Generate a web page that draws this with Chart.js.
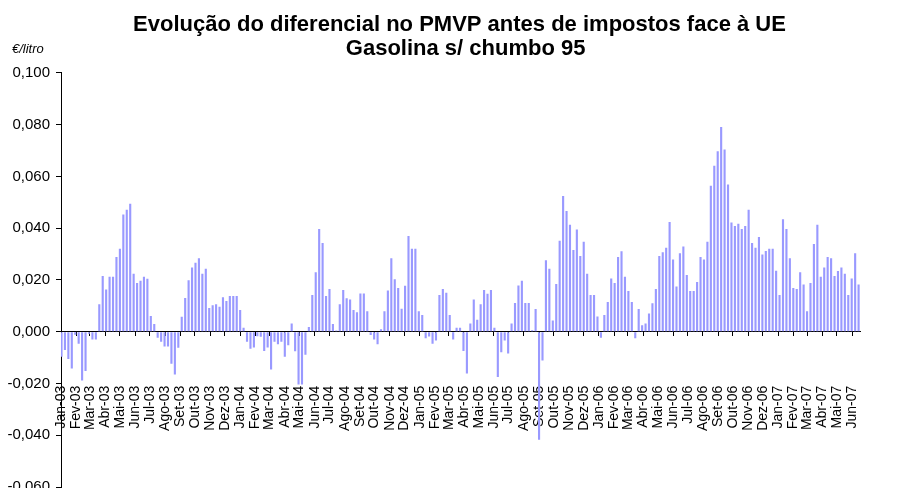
<!DOCTYPE html>
<html>
<head>
<meta charset="utf-8">
<script src="https://cdn.jsdelivr.net/npm/chart.js@4/dist/chart.umd.min.js"></script>
<style>
  html, body { margin: 0; padding: 0; background: #fff; overflow: hidden; }
  #wrap { position: relative; width: 919px; height: 502px; }
</style>
</head>
<body>
<div id="wrap"><canvas id="c"></canvas></div>
<script>
// ---- Data ----
const titleLines = ['Evolução do diferencial no PMVP antes de impostos face à UE', '  Gasolina s/ chumbo 95'];
const unitLabel = '€/litro';

// Month tick labels (x axis)
const monthLabels = [
  'Jan-03','Fev-03','Mar-03','Abr-03','Mai-03','Jun-03','Jul-03','Ago-03','Set-03','Out-03','Nov-03','Dez-03',
  'Jan-04','Fev-04','Mar-04','Abr-04','Mai-04','Jun-04','Jul-04','Ago-04','Set-04','Out-04','Nov-04','Dez-04',
  'Jan-05','Fev-05','Mar-05','Abr-05','Mai-05','Jun-05','Jul-05','Ago-05','Set-05','Out-05','Nov-05','Dez-05',
  'Jan-06','Fev-06','Mar-06','Abr-06','Mai-06','Jun-06','Jul-06','Ago-06','Set-06','Out-06','Nov-06','Dez-06',
  'Jan-07','Fev-07','Mar-07','Abr-07','Mai-07','Jun-07'
];
// First week of the weekly series
const firstWeekDate = '2003-01-02';

// Weekly differential (EUR/litre)
const diferencial = [
  -0.0097,-0.0071,-0.0105,-0.0142,-0.0012,-0.0046,-0.0188,-0.0152,-0.0008,-0.0030,
  -0.0030, 0.0106, 0.0215, 0.0163, 0.0212, 0.0212, 0.0289, 0.0321, 0.0453, 0.0471,
   0.0495, 0.0224, 0.0188, 0.0197, 0.0212, 0.0205, 0.0061, 0.0030,-0.0023,-0.0039,
  -0.0057,-0.0057,-0.0124,-0.0165,-0.0062, 0.0058, 0.0130, 0.0199, 0.0248, 0.0267,
   0.0284, 0.0224, 0.0243, 0.0092, 0.0102, 0.0106, 0.0097, 0.0133, 0.0119, 0.0138,
   0.0138, 0.0138, 0.0084, 0.0015,-0.0039,-0.0066,-0.0061,-0.0017,-0.0019,-0.0074,
  -0.0061,-0.0146,-0.0039,-0.0048,-0.0039,-0.0097,-0.0052, 0.0032,-0.0075,-0.0204,
  -0.0204,-0.0089, 0.0018, 0.0142, 0.0230, 0.0397, 0.0343, 0.0138, 0.0165, 0.0030,
   0.0005, 0.0106, 0.0161, 0.0129, 0.0125, 0.0084, 0.0075, 0.0148, 0.0148, 0.0079,
  -0.0013,-0.0030,-0.0048, 0.0010, 0.0079, 0.0159, 0.0284, 0.0203, 0.0169, 0.0089,
   0.0178, 0.0370, 0.0321, 0.0321, 0.0079, 0.0065,-0.0025,-0.0018,-0.0046,-0.0034,
   0.0142, 0.0165, 0.0151, 0.0065,-0.0030, 0.0015, 0.0015,-0.0074,-0.0161, 0.0032,
   0.0125, 0.0046, 0.0106, 0.0161, 0.0147, 0.0161, 0.0015,-0.0175,-0.0079,-0.0034,
  -0.0084, 0.0032, 0.0111, 0.0179, 0.0197, 0.0111, 0.0111, 0.0006, 0.0088,-0.0417,
  -0.0111, 0.0276, 0.0243, 0.0043, 0.0184, 0.0352, 0.0525, 0.0467, 0.0413, 0.0316,
   0.0395, 0.0293, 0.0348, 0.0224, 0.0142, 0.0142, 0.0059,-0.0023, 0.0065, 0.0115,
   0.0206, 0.0188, 0.0289, 0.0311, 0.0212, 0.0157, 0.0115,-0.0025, 0.0088, 0.0025,
   0.0032, 0.0070, 0.0110, 0.0165, 0.0293, 0.0307, 0.0325, 0.0424, 0.0279, 0.0175,
   0.0303, 0.0329, 0.0219, 0.0157, 0.0157, 0.0192, 0.0289, 0.0279, 0.0348, 0.0564,
   0.0641, 0.0697, 0.0791, 0.0704, 0.0569, 0.0422, 0.0409, 0.0417, 0.0397, 0.0409,
   0.0471, 0.0343, 0.0325, 0.0366, 0.0298, 0.0312, 0.0321, 0.0321, 0.0236, 0.0142,
   0.0435, 0.0397, 0.0284, 0.0169, 0.0165, 0.0230, 0.0183, 0.0079, 0.0188, 0.0339,
   0.0413, 0.0212, 0.0248, 0.0289, 0.0284, 0.0215, 0.0235, 0.0248, 0.0224, 0.0142,
   0.0206, 0.0303, 0.0183
];

// Y axis range/step
const yMin = -0.06, yMax = 0.1, yStep = 0.02;

// ---- Derived axis positions (in weeks since the first week) ----
const WEEK = 7 * 864e5;
const t0 = Date.parse(firstWeekDate + 'T00:00:00Z');
const monthPos = monthLabels.map((_, i) =>
  (Date.UTC(2003 + Math.floor(i / 12), i % 12, 1) - t0) / WEEK);

const FONT = "'Liberation Sans', Arial, sans-serif";

const unitPlugin = {
  id: 'unitLabel',
  afterDraw(chart) {
    const ctx = chart.ctx;
    ctx.save();
    ctx.font = "italic 13px " + FONT;
    ctx.fillStyle = '#000';
    ctx.textAlign = 'left';
    ctx.textBaseline = 'alphabetic';
    ctx.fillText(unitLabel, 12, 52.5);
    ctx.restore();
  }
};

new Chart(document.getElementById('c'), {
  type: 'bar',
  data: {
    datasets: [{
      data: diferencial.map((v, i) => ({ x: i, y: v })),
      backgroundColor: '#9999FF',
      borderWidth: 0,
      barPercentage: 0.62,
      categoryPercentage: 1.0
    }]
  },
  options: {
    responsive: true,
    maintainAspectRatio: false,
    animation: false,
    events: [],
    layout: { padding: { left: 0, right: 0, top: 0, bottom: 0 } },
    plugins: {
      legend: { display: false },
      tooltip: { enabled: false },
      title: {
        display: true,
        text: titleLines,
        color: '#000',
        font: { family: FONT, size: 22, weight: 'bold', lineHeight: 1.09 },
        padding: { top: 13, bottom: 12 }
      }
    },
    scales: {
      x: {
        type: 'linear',
        position: { y: 0 },
        offset: false,
        min: monthPos[0],
        max: diferencial.length - 0.5,
        afterBuildTicks: (scale) => { scale.ticks = monthPos.map(v => ({ value: v })); },
        ticks: {
          autoSkip: false,
          minRotation: 90,
          maxRotation: 90,
          padding: 50,
          color: '#000',
          font: { family: FONT, size: 14 },
          callback: (v, i) => monthLabels[i]
        },
        grid: { display: true, drawOnChartArea: false, drawTicks: true, tickLength: 4, color: '#000', offset: false },
        border: { display: true, color: '#000', width: 1 }
      },
      y: {
        min: yMin,
        max: yMax,
        afterFit: (scale) => { scale.width = 61; },
        ticks: {
          stepSize: yStep,
          padding: 6,
          color: '#000',
          font: { family: FONT, size: 15 },
          callback: (v) => (Math.abs(v) < 1e-9 ? 0 : v).toFixed(3).replace('.', ',')
        },
        grid: { display: true, drawOnChartArea: false, drawTicks: true, tickLength: 5, color: '#000' },
        border: { display: true, color: '#000', width: 1 }
      }
    }
  },
  plugins: [unitPlugin]
});
</script>
</body>
</html>
